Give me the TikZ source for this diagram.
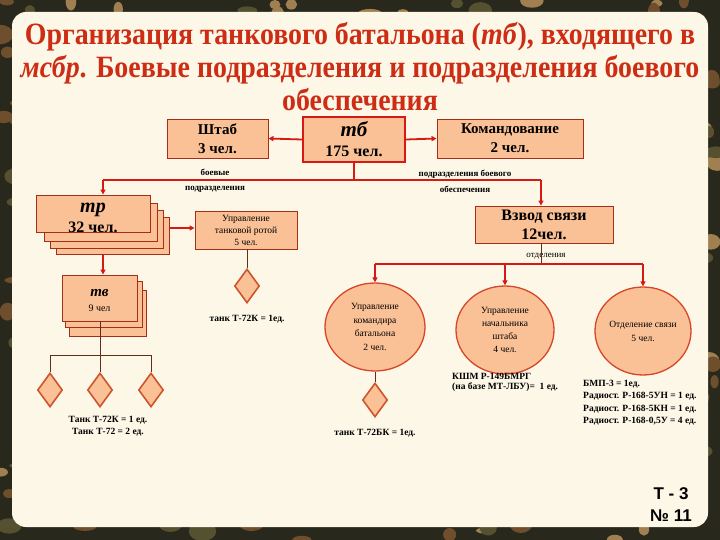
\documentclass[tikz,border=0pt]{standalone}
\usepackage{fontspec}
\setmainfont{Liberation Serif}
\newfontfamily\arialf{Liberation Sans}
\newfontfamily\titlef[FakeStretch=0.9]{Liberation Serif}
\usetikzlibrary{shapes.geometric,arrows.meta}
\definecolor{peach}{RGB}{250,192,150}
\definecolor{cream}{RGB}{252,247,231}
\definecolor{boxline}{RGB}{165,45,25}
\definecolor{arrowred}{RGB}{215,25,20}
\definecolor{titlered}{RGB}{205,45,20}
\definecolor{diaml}{RGB}{205,85,45}
\definecolor{circl}{RGB}{215,70,40}
\definecolor{thinl}{RGB}{100,45,25}
\definecolor{camoA}{RGB}{85,80,48}
\definecolor{camoB}{RGB}{160,128,80}
\definecolor{camoC}{RGB}{40,40,28}
\definecolor{camoD}{RGB}{110,78,45}
\tikzset{
  box/.style={draw=boxline, line width=0.9pt, fill=peach, inner sep=0pt, align=center},
  layer/.style={draw=boxline, line width=0.9pt, fill=peach},
  arr/.style={draw=arrowred, line width=1.8pt, -{Triangle[length=5pt,width=5pt]}},
  redline/.style={draw=arrowred, line width=1.8pt},
  thin/.style={draw=thinl, line width=0.8pt},
  dia/.style={draw=diaml, line width=1.6pt, fill=peach, shape=diamond, minimum width=25pt, minimum height=34pt, inner sep=0pt},
  circ/.style={draw=circl, line width=1.3pt, fill=peach, shape=ellipse, inner sep=0pt, align=center},
  lbl/.style={inner sep=0pt, align=center, font=\fontsize{9.5}{12}\selectfont\bfseries},
  txt/.style={inner sep=0pt, align=center},
}
\begin{document}
\begin{tikzpicture}[x=1pt,y=-1pt]
\useasboundingbox (0,0) rectangle (720,540);
% camouflage frame
\fill[camoC] (0,0) rectangle (720,540);
\pgfmathsetseed{11}
\foreach \i in {1,...,420}{
  \pgfmathsetmacro{\px}{rnd*720}
  \pgfmathsetmacro{\py}{rnd*540}
  \pgfmathsetmacro{\rx}{4+rnd*10}
  \pgfmathsetmacro{\ry}{3+rnd*7}
  \pgfmathtruncatemacro{\c}{mod(\i,3)}
  \ifcase\c
    \fill[camoA] (\px,\py) ellipse [x radius=\rx, y radius=\ry];
  \or
    \fill[camoB] (\px,\py) ellipse [x radius=\rx, y radius=\ry];
  \or
    \fill[camoD] (\px,\py) ellipse [x radius=\rx, y radius=\ry];
  \fi
}
% panel
\fill[cream, rounded corners=14pt] (12,12) rectangle (708,527);

% title
\node[titlered, font=\titlef\fontsize{31}{33}\selectfont\bfseries, inner sep=0pt, align=center] (title) at (360,67)
  {Организация танкового батальона (\textit{тб}), входящего в\\
   \textit{мсбр}. Боевые подразделения и подразделения боевого\\
   обеспечения};

% top row
\node[box, minimum width=101pt, minimum height=39pt, font=\fontsize{15}{19}\selectfont\bfseries] (shtab) at (217.5,138.5) {Штаб\\3 чел.};
\node[box, draw=arrowred, line width=2pt, minimum width=102pt, minimum height=45pt, font=\fontsize{16}{20}\selectfont\bfseries] (tb) at (354,139.5)
  {{\fontsize{21}{20}\selectfont\itshape тб}\\175 чел.};
\node[box, minimum width=146pt, minimum height=39pt, font=\fontsize{15}{19}\selectfont\bfseries] (kom) at (510,138.5) {Командование\\2 чел.};
\draw[arr] (tb.west) -- (shtab.east);
\draw[arr] (tb.east) -- (kom.west);

% branches
\coordinate (tbdown) at (354,180);
\coordinate (bl) at (103,180);
\coordinate (br) at (541,180);
\draw[redline] (tb.south) -- (tbdown);
\draw[draw=arrowred, line width=1.2pt] (bl) -- (br);
\node[lbl, font=\fontsize{9}{15}\selectfont\bfseries] (lblb) at (215,180.5) {боевые\\подразделения};
\node[lbl, font=\fontsize{9}{16}\selectfont\bfseries] (lblo) at (465,181.5) {подразделения боевого\\обеспечения};

% tr stack
\draw[layer] (56,217) rectangle (169,254);
\draw[layer] (50,210) rectangle (163,248);
\draw[layer] (44,203) rectangle (157,241);
\node[box, minimum width=114pt, minimum height=37pt] (tr) at (93,213.5) {};
\node[txt, font=\fontsize{16}{20}\selectfont\bfseries] (trt) at (93,218)
  {{\fontsize{20}{20}\selectfont\itshape тр}\\32 чел.};
\draw[arr] (bl) -- (tr.north -| bl);
\coordinate (trr) at (170,228);
\node[box, minimum width=102pt, minimum height=38pt, font=\fontsize{9.5}{12}\selectfont] (upr) at (246,230) {Управление\\танковой ротой\\5 чел.};
\draw[arr] (trr) -- (trr -| upr.west);
\node[dia] (d1) at (247,286) {};
\draw[thin] (upr.south -| d1) -- (d1.north);
\node[lbl] (l1) at (247,319) {танк Т-72К = 1ед.};

% tv stack
\coordinate (trb) at (103,255);
\draw[layer] (69,290) rectangle (146,336);
\draw[layer] (65,281) rectangle (142,327);
\node[box, minimum width=75pt, minimum height=46pt] (tv) at (99.5,298) {};
\node[txt, font=\fontsize{10}{15}\selectfont] (tvt) at (99.5,301)
  {{\fontsize{15}{15}\selectfont\bfseries\itshape тв}\\9 чел};
\draw[arr] (trb) -- (trb |- tv.north);
\node[dia] (t1) at (50,390) {};
\node[dia] (t2) at (100,390) {};
\node[dia] (t3) at (151,390) {};
\coordinate (tvj) at (100,355);
\draw[thin] (tv.south -| tvj) -- (tvj);
\draw[thin] (t1.north) -- (t1.north |- tvj) -- (t3.north |- tvj) -- (t3.north);
\draw[thin] (tvj) -- (t2.north);
\node[lbl, align=center, font=\fontsize{9.5}{12}\selectfont\bfseries] (l2) at (108,426) {Танк Т-72К = 1 ед.\\Танк Т-72 = 2 ед.};

% vzvod
\node[box, minimum width=138pt, minimum height=37pt, font=\fontsize{16}{19}\selectfont\bfseries] (vz) at (544,224.5) {Взвод связи\\12чел.};
\draw[arr] (br) -- (br |- vz.north);
\node[inner sep=0pt, font=\fontsize{9}{11}\selectfont] (otd) at (546,256) {отделения};
\coordinate (vzj) at (541,264);
\draw[thin] (vz.south -| vzj) -- (vzj);

% circles
\node[circ, minimum width=100pt, minimum height=88pt, font=\fontsize{9.5}{13.5}\selectfont] (c1) at (375,327) {Управление\\командира\\батальона\\2 чел.};
\node[circ, minimum width=98pt, minimum height=88pt, font=\fontsize{9.5}{13}\selectfont] (c2) at (505,330) {Управление\\начальника\\штаба\\4 чел.};
\node[circ, minimum width=96pt, minimum height=88pt, font=\fontsize{9.5}{14}\selectfont] (c3) at (643,331) {Отделение связи\\5 чел.};
\draw[draw=arrowred, line width=1.2pt] (c1.north |- vzj) -- (c3.north |- vzj);
\draw[arr] (c1.north |- vzj) -- (c1.north);
\draw[arr] (c2.north |- vzj) -- (c2.north);
\draw[arr] (c3.north |- vzj) -- (c3.north);

\node[dia] (d2) at (375,400) {};
\draw[thin] (c1.south) -- (d2.north);
\node[lbl] (l3) at (375,433) {танк Т-72БК = 1ед.};

\node[lbl, anchor=north west, align=left, font=\fontsize{9.5}{10.5}\selectfont\bfseries] (l4) at (452,373) {КШМ Р-149БМРГ\\(на базе МТ-ЛБУ)= \ 1 ед.};
\node[lbl, anchor=north west, align=left, font=\fontsize{9.5}{12.5}\selectfont\bfseries] (l5) at (583,380) {БМП-3 = 1ед.\\Радиост. Р-168-5УН = 1 ед.\\Радиост. Р-168-5КН = 1 ед.\\Радиост. Р-168-0,5У = 4 ед.};

% page number
\node[inner sep=0pt, align=center, font=\arialf\fontsize{17}{22}\selectfont\bfseries] (pg) at (671,505) {Т - 3\\№ 11};
\end{tikzpicture}
\end{document}
